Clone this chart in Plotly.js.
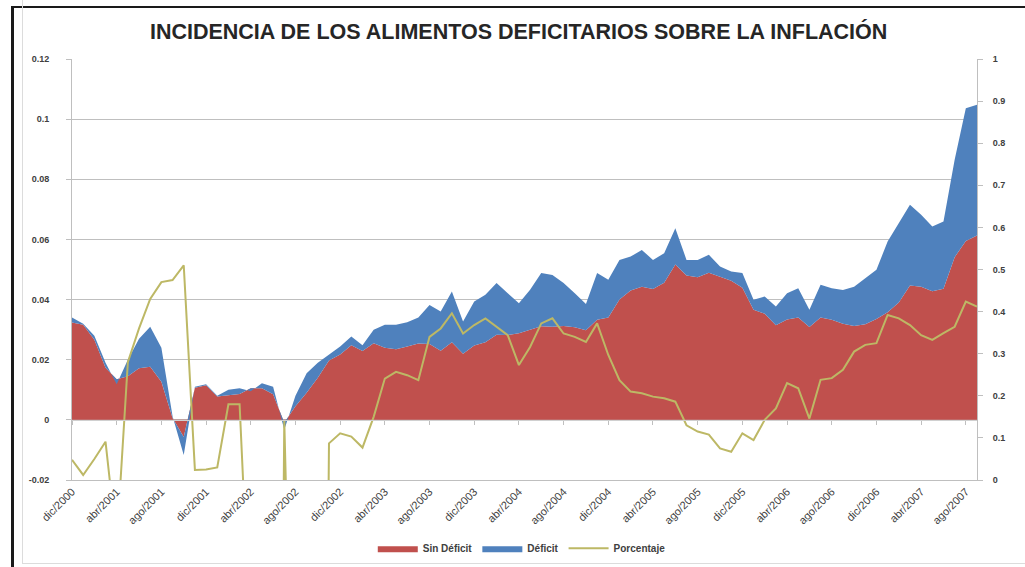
<!DOCTYPE html>
<html>
<head>
<meta charset="utf-8">
<script src="https://cdn.plot.ly/plotly-3.0.1.min.js"></script>
<style>
  html, body { margin: 0; padding: 0; background: #ffffff; }
  #wrap { position: relative; width: 1025px; height: 567px; overflow: hidden; }
  #chart { position: absolute; left: 0; top: 0; width: 1025px; height: 567px; }
  #frame { position: absolute; left: 11px; top: 6px; width: 1016px; height: 570px;
           border-left: 3px solid #1a1a1a; border-top: 2px solid #1a1a1a; pointer-events: none; }
  #inner { position: absolute; left: 22px; top: -5px; width: 1010px; height: 568px;
           border-left: 1px solid #dcdcdc; border-bottom: 1px solid #dcdcdc; pointer-events: none; }
</style>
</head>
<body>
<div id="wrap">
  <div id="chart"></div>
  <div id="frame"></div>
  <div id="inner"></div>
</div>
<script>
// Months (categories) from dic/2000 to sep/2007
const months = [
  "dic/2000",
  "ene/2001","feb/2001","mar/2001","abr/2001","may/2001","jun/2001","jul/2001","ago/2001","sep/2001","oct/2001","nov/2001","dic/2001",
  "ene/2002","feb/2002","mar/2002","abr/2002","may/2002","jun/2002","jul/2002","ago/2002","sep/2002","oct/2002","nov/2002","dic/2002",
  "ene/2003","feb/2003","mar/2003","abr/2003","may/2003","jun/2003","jul/2003","ago/2003","sep/2003","oct/2003","nov/2003","dic/2003",
  "ene/2004","feb/2004","mar/2004","abr/2004","may/2004","jun/2004","jul/2004","ago/2004","sep/2004","oct/2004","nov/2004","dic/2004",
  "ene/2005","feb/2005","mar/2005","abr/2005","may/2005","jun/2005","jul/2005","ago/2005","sep/2005","oct/2005","nov/2005","dic/2005",
  "ene/2006","feb/2006","mar/2006","abr/2006","may/2006","jun/2006","jul/2006","ago/2006","sep/2006","oct/2006","nov/2006","dic/2006",
  "ene/2007","feb/2007","mar/2007","abr/2007","may/2007","jun/2007","jul/2007","ago/2007","sep/2007"
];

// Tick labels shown on the category axis (every 4 months)
const tickLabels = [
  "dic/2000","abr/2001","ago/2001","dic/2001","abr/2002","ago/2002","dic/2002",
  "abr/2003","ago/2003","dic/2003","abr/2004","ago/2004","dic/2004","abr/2005",
  "ago/2005","dic/2005","abr/2006","ago/2006","dic/2006","abr/2007","ago/2007"
];

// Sin Déficit (red, bottom of the stack)
const sinDeficit = [
  0.0324, 0.0316, 0.0266, 0.0173, 0.0135, 0.0145, 0.0172, 0.0177, 0.0127, 0.0006,
  -0.0057, 0.0107, 0.0115, 0.0078, 0.0082, 0.0086, 0.0105, 0.0105, 0.0085, -0.0010,
  0.0045, 0.0090, 0.0140, 0.0197, 0.0217, 0.0248, 0.0229, 0.0255, 0.0240, 0.0235,
  0.0244, 0.0254, 0.0252, 0.0230, 0.0258, 0.0220, 0.0247, 0.0258, 0.0283, 0.0282,
  0.0288, 0.0300, 0.0311, 0.0310, 0.0312, 0.0308, 0.0298, 0.0333, 0.0340, 0.0400,
  0.0430, 0.0443, 0.0435, 0.0456, 0.0517, 0.0480, 0.0474, 0.0489, 0.0475, 0.0463,
  0.0439, 0.0366, 0.0353, 0.0315, 0.0334, 0.0340, 0.0309, 0.0340, 0.0333, 0.0320,
  0.0312, 0.0318, 0.0335, 0.0358, 0.0390, 0.0447, 0.0443, 0.0428, 0.0436, 0.0541,
  0.0595, 0.0613
];

// Déficit (blue, stacked on top)
const deficit = [
  0.0016, 0.0004, 0.0014, 0.0017, -0.0017, 0.0055, 0.0098, 0.0133, 0.0113, 0.0006,
  -0.0060, 0.0003, 0.0003, 0.0002, 0.0018, 0.0019, -0.0010, 0.0017, 0.0025, -0.0023,
  0.0035, 0.0065, 0.0050, 0.0019, 0.0027, 0.0029, 0.0019, 0.0045, 0.0076, 0.0081,
  0.0081, 0.0086, 0.0130, 0.0130, 0.0169, 0.0107, 0.0147, 0.0158, 0.0172, 0.0139,
  0.0100, 0.0133, 0.0177, 0.0172, 0.0143, 0.0113, 0.0087, 0.0155, 0.0126, 0.0132,
  0.0113, 0.0122, 0.0097, 0.0098, 0.0120, 0.0052, 0.0058, 0.0060, 0.0035, 0.0030,
  0.0049, 0.0033, 0.0057, 0.0062, 0.0087, 0.0098, 0.0057, 0.0109, 0.0105, 0.0112,
  0.0131, 0.0153, 0.0164, 0.0235, 0.0264, 0.0268, 0.0239, 0.0215, 0.0224, 0.0324,
  0.0441, 0.0435
];

// Porcentaje (right axis)
const porcentaje = [
  0.048, 0.012, 0.050, 0.091, -0.150, 0.280, 0.360, 0.430, 0.470, 0.475,
  0.510, 0.024, 0.025, 0.030, 0.180, 0.180, -0.400, -3.0, -3.0, 0.140,
  -3.0, -3.0, -3.0, 0.087, 0.111, 0.103, 0.077, 0.150, 0.241, 0.257,
  0.249, 0.237, 0.340, 0.360, 0.396, 0.348, 0.368, 0.384, 0.364, 0.344,
  0.273, 0.316, 0.372, 0.384, 0.348, 0.340, 0.328, 0.372, 0.297, 0.237,
  0.210, 0.206, 0.198, 0.194, 0.186, 0.130, 0.115, 0.108, 0.075, 0.067,
  0.111, 0.095, 0.143, 0.170, 0.230, 0.218, 0.146, 0.238, 0.242, 0.262,
  0.305, 0.321, 0.325, 0.392, 0.384, 0.368, 0.344, 0.333, 0.349, 0.364,
  0.424, 0.412
];

const leftTicks = [-0.02, 0, 0.02, 0.04, 0.06, 0.08, 0.1, 0.12];
const leftTickText = ["-0.02", "0", "0.02", "0.04", "0.06", "0.08", "0.1", "0.12"];
const rightTicks = [0, 0.1, 0.2, 0.3, 0.4, 0.5, 0.6, 0.7, 0.8, 0.9, 1];
const rightTickText = ["0", "0.1", "0.2", "0.3", "0.4", "0.5", "0.6", "0.7", "0.8", "0.9", "1"];

const FONT = "Liberation Sans, Arial, sans-serif";
const RED = "#C0504D", BLUE = "#4F81BD", LINE = "#BDB865";

const traces = [
  { type: "scatter", mode: "lines", name: "Sin Déficit", x: months, y: sinDeficit,
    stackgroup: "a", line: { width: 0, color: RED }, fillcolor: RED, xaxis: "x", yaxis: "y" },
  { type: "scatter", mode: "lines", name: "Déficit", x: months, y: deficit,
    stackgroup: "a", line: { width: 0, color: BLUE }, fillcolor: BLUE, xaxis: "x", yaxis: "y" },
  { type: "scatter", mode: "lines", name: "Porcentaje", x: months, y: porcentaje,
    line: { width: 2, color: LINE }, xaxis: "x2", yaxis: "y2" }
];

const n = months.length;
const layout = {
  width: 1025, height: 567,
  paper_bgcolor: "rgba(0,0,0,0)", plot_bgcolor: "#ffffff",
  margin: { l: 72, r: 48, t: 59, b: 87, autoexpand: false },
  font: { family: FONT, size: 9, color: "#404040" },
  title: { text: "INCIDENCIA DE LOS ALIMENTOS DEFICITARIOS SOBRE LA INFLACIÓN",
           font: { family: FONT, size: 21.5, color: "#262626", weight: "bold" },
           x: 0.506, xanchor: "center", y: 0.944, yanchor: "middle", xref: "container", yref: "container" },
  showlegend: true,
  legend: { orientation: "h", x: 0.497, xanchor: "center", y: -0.162, yanchor: "middle",
            font: { family: FONT, size: 10, color: "#404040", weight: "bold" }, bgcolor: "rgba(0,0,0,0)",
            traceorder: "normal", itemwidth: 40 },
  xaxis: { type: "category", categoryorder: "array", categoryarray: months,
           range: [0, n - 1], tickmode: "array", tickvals: tickLabels, ticktext: tickLabels,
           tickangle: -45, ticks: "", showgrid: false, zeroline: false,
           showline: true, linecolor: "#BFBFBF", linewidth: 1,
           tickfont: { family: FONT, size: 11, color: "#404040" }, automargin: false },
  xaxis2: { type: "category", categoryorder: "array", categoryarray: months, overlaying: "x",
            anchor: "free", position: 0.142857, side: "bottom",
            range: [0, n - 1], tickmode: "array", tickvals: tickLabels,
            ticks: "outside", ticklen: 4, tickcolor: "#BFBFBF", showticklabels: false,
            showgrid: false, zeroline: false, showline: true, linecolor: "#D0D0D0", linewidth: 1 },
  yaxis: { range: [-0.02, 0.12], tickmode: "array", tickvals: leftTicks, ticktext: leftTickText,
           showgrid: true, gridcolor: "#BFBFBF", gridwidth: 1, zeroline: false,
           showline: true, linecolor: "#BFBFBF", ticks: "outside", ticklen: 5, tickcolor: "#BFBFBF",
           ticklabelstandoff: 15,
           tickfont: { family: FONT, size: 9, color: "#404040", weight: "bold" }, automargin: false },
  yaxis2: { range: [0, 1], overlaying: "y", side: "right", anchor: "x",
            tickmode: "array", tickvals: rightTicks, ticktext: rightTickText,
            showgrid: false, zeroline: false, showline: true, linecolor: "#BFBFBF",
            ticks: "outside", ticklen: 5, tickcolor: "#BFBFBF", ticklabelstandoff: 8,
            tickfont: { family: FONT, size: 9, color: "#404040", weight: "bold" }, automargin: false }
};

Plotly.newPlot("chart", traces, layout, { displayModeBar: false, staticPlot: true });
</script>
</body>
</html>
